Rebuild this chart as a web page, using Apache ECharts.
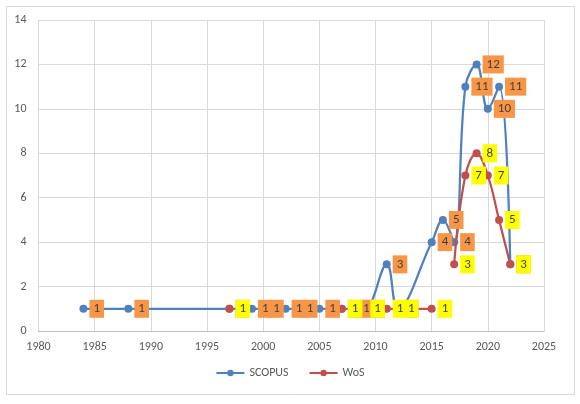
<!DOCTYPE html>
<html>
<head>
<meta charset="utf-8">
<script src="https://cdn.jsdelivr.net/npm/echarts@6/dist/echarts.min.js"></script>
<style>
html,body{margin:0;padding:0;background:#fff;}
#chart{width:580px;height:404px;}
</style>
</head>
<body>
<div id="chart"></div>
<script>
// 年份（每行一个），空值 = 断开
var years=[1984,1988,1997,1999,2000,2002,2003,2005,2007,2008,2009,2011,2012,2015,2016,2017,2018,2019,2020,2021,2022];
var scopus=[1,1,1,1,1,1,1,1,1,1,1,3,1,4,5,4,11,12,10,11,3];
var wos=[null,null,1,null,null,null,null,null,1,null,1,1,1,1,null,3,7,8,7,5,3];
var seriesNames=['SCOPUS','WoS'];
var xTicks=[1980,2025,5];
var yTicks=[0,14,2];

function pairs(vals){
    var out=[];
    for(var i=0;i<years.length;i++){
        out.push([years[i],vals[i]]);
    }
    return out;
}

var font="Carlito, Lato, 'Liberation Sans', sans-serif";

// 线+点
function lineSerie(name,color,z,vals){
    return {
        name:name,
        type:'line',
        smooth:0.4,
        connectNulls:false,
        symbol:'circle',
        symbolSize:8,
        color:color,
        lineStyle:{width:2.25,color:color},
        z:z,
        label:{show:false},
        data:pairs(vals)
    };
}
// 数据标签放在所有点的上面
function labelSerie(name,bg,z,vals){
    return {
        name:name+'-label',
        type:'scatter',
        symbol:'circle',
        symbolSize:8,
        itemStyle:{color:'rgba(0,0,0,0)',opacity:1},
        silent:true,
        z:z,
        label:{
            show:true,
            position:'right',
            distance:2,
            backgroundColor:bg,
            color:'#404040',
            fontSize:13,
            lineHeight:12,
            fontFamily:font,
            padding:[3,4,3,4],
            formatter:function(p){return p.value[1];}
        },
        data:pairs(vals).filter(function(d){return d[1]!==null;})
    };
}

var myChart=echarts.init(document.getElementById('chart'));
var option={
    animation:false,
    textStyle:{fontFamily:font},
    graphic:[{
        type:'rect',
        shape:{x:6.5,y:6.5,width:568,height:388},
        style:{fill:'none',stroke:'#d9d9d9',lineWidth:1},
        silent:true
    }],
    grid:{left:38.5,right:36,top:20,bottom:73},
    legend:{
        data:seriesNames,
        bottom:20,
        left:'center',
        itemWidth:28,
        itemHeight:8,
        itemGap:20,
        textStyle:{color:'#595959',fontSize:12,fontFamily:font}
    },
    xAxis:{
        type:'value',
        min:xTicks[0],
        max:xTicks[1],
        interval:xTicks[2],
        axisLine:{show:true,lineStyle:{color:'#bfbfbf'}},
        axisTick:{show:false},
        axisLabel:{color:'#595959',fontSize:12,margin:10,fontFamily:font,
            formatter:function(v){return String(v);}},
        splitLine:{show:true,lineStyle:{color:'#d9d9d9'}}
    },
    yAxis:{
        type:'value',
        min:yTicks[0],
        max:yTicks[1],
        interval:yTicks[2],
        axisLine:{show:false},
        axisTick:{show:false},
        axisLabel:{color:'#595959',fontSize:12,margin:12,fontFamily:font},
        splitLine:{show:true,lineStyle:{color:'#d9d9d9'}}
    },
    series:[
        lineSerie(seriesNames[0],'#4f81bd',2,scopus),
        lineSerie(seriesNames[1],'#c0504d',3,wos),
        labelSerie(seriesNames[0],'#f79646',4,scopus),
        labelSerie(seriesNames[1],'#ffff00',5,wos)
    ]
};
myChart.setOption(option);
window.addEventListener("resize",function(){
    myChart.resize();
});
</script>
</body>
</html>
